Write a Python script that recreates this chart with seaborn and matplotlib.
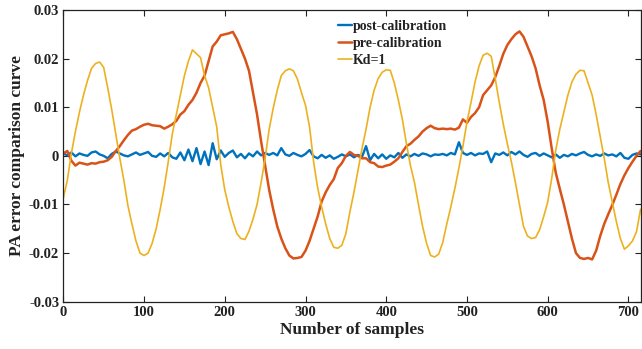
import matplotlib
matplotlib.use("Agg")
import matplotlib.pyplot as plt
import seaborn as sns
import pandas as pd

# ---- data (values in units of 1e-3, sampled every 5 samples) ----
samples = list(range(0, 720, 5))

post_calibration = [
    0.5, 0.1, 0.7, -0.1, 0.5, 0.2, 0.0, 0.7, 0.9, 0.3,
    0.0, -0.5, 0.4, 0.9, 0.5, 0.1, -0.1, 0.3, 0.7, 0.2,
    0.5, 0.8, 0.0, -0.2, 0.5, -0.1, 0.6, -0.3, -0.6, 0.7,
    -0.9, 1.3, -1.1, 1.6, -1.7, 0.9, -1.9, 2.6, -0.7, 1.1,
    -0.2, 0.6, 1.1, -0.3, 0.4, -0.5, 0.5, -0.1, 0.9, 0.1,
    0.6, 0.2, 0.6, 0.1, 1.6, 0.3, 0.0, 0.6, 0.2, -0.1,
    0.4, 1.2, -0.1, -0.5, 0.2, -0.4, 0.1, -0.6, -0.2, 0.3,
    -0.1, 0.3, -0.3, 0.2, -0.2, 2.0, -0.9, 0.4, -0.5, 0.3,
    -0.6, 0.1, -0.3, 0.6, -0.4, 0.3, -0.1, 0.4, 0.0, 0.5,
    0.3, -0.1, 0.3, 0.2, 0.4, 0.1, 0.6, 0.3, 2.8, 0.6,
    0.2, 0.6, 0.1, 0.5, 0.4, 0.9, -1.3, 0.5, 0.2, 0.7,
    0.1, 0.8, 0.3, 0.9, 0.2, -0.2, 0.4, 0.6, 0.0, 0.5,
    0.1, -0.3, 0.3, -0.4, 0.2, -0.1, 0.4, 0.1, 0.5, 0.8,
    0.2, -0.1, 0.3, 0.0, 0.5, 0.1, 0.3, -0.1, 0.6, -0.4,
    -0.6, 0.2, 0.5, 0.3,
]

pre_calibration = [
    0.5, 1.0, -1.0, -2.0, -1.4, -1.6, -1.8, -1.5, -1.6, -1.3,
    -1.2, -0.9, -0.2, 1.0, 2.0, 3.2, 4.3, 5.2, 5.5, 6.0,
    6.4, 6.6, 6.3, 6.2, 6.1, 5.6, 6.0, 6.5, 7.2, 8.5,
    9.2, 10.5, 11.5, 13.0, 15.0, 16.5, 19.5, 22.5, 23.5, 24.8,
    25.0, 25.2, 25.5, 24.0, 22.0, 20.0, 17.5, 13.0, 8.5, 3.0,
    -2.0, -7.0, -11.0, -14.5, -17.0, -19.0, -20.5, -21.1, -21.0, -20.8,
    -19.5, -17.5, -15.0, -12.5, -9.4, -7.5, -6.0, -4.8, -2.5, -1.5,
    0.0, 0.8, 0.2, 0.0, -0.5, -0.5, -1.3, -1.5, -2.2, -2.3,
    -2.0, -1.8, -1.2, -0.5, 0.8, 2.0, 2.5, 3.3, 4.0, 5.0,
    5.7, 6.2, 5.7, 5.5, 5.6, 5.5, 5.6, 5.4, 5.8, 7.5,
    6.8, 8.0, 8.8, 10.0, 12.5, 13.5, 14.5, 16.2, 18.5, 21.0,
    22.8, 24.0, 25.0, 25.6, 24.5, 22.5, 20.5, 18.0, 14.5, 11.5,
    7.0, 1.5, -3.5, -6.8, -10.0, -13.5, -17.0, -20.0, -21.0, -21.2,
    -21.0, -21.3, -19.5, -16.5, -14.0, -12.0, -10.1, -8.0, -5.8, -4.0,
    -2.5, -1.2, 0.0, 1.0,
]

kd_1 = [
    -8.7, -5.0, 0.5, 5.0, 9.0, 12.5, 15.5, 18.0, 19.0, 19.3,
    18.2, 14.0, 9.5, 4.5, -0.5, -5.0, -10.2, -14.0, -17.5, -20.0,
    -20.5, -20.0, -18.0, -15.0, -11.0, -6.5, -1.2, 4.5, 8.5, 12.5,
    16.5, 19.5, 21.8, 21.0, 20.2, 16.5, 14.0, 10.0, 6.0, -1.8,
    -7.0, -10.5, -13.5, -16.0, -17.0, -17.2, -15.5, -13.0, -10.0, -5.5,
    -0.5, 5.5, 9.8, 13.5, 16.5, 17.5, 17.9, 17.5, 15.8, 13.0,
    10.4, 6.0, -1.2, -6.5, -10.5, -14.0, -17.0, -18.8, -19.0, -18.4,
    -16.0, -11.5, -7.5, -3.0, 1.5, 5.5, 10.0, 13.5, 15.9, 17.2,
    17.7, 17.6, 15.0, 11.5, 7.5, 2.5, -2.0, -5.5, -10.1, -14.5,
    -18.0, -20.5, -20.8, -20.2, -17.8, -14.0, -10.5, -6.7, -2.5, 2.0,
    7.0, 11.0, 15.2, 18.5, 20.7, 21.1, 20.5, 15.9, 11.0, 6.5,
    2.5, -1.2, -5.5, -10.0, -14.5, -16.5, -17.0, -16.8, -15.2, -12.5,
    -9.5, -4.6, 1.2, 5.5, 9.0, 12.5, 15.2, 16.8, 17.6, 17.5,
    15.0, 12.5, 8.5, 4.0, -0.5, -5.5, -9.5, -13.5, -17.0, -19.2,
    -18.5, -17.5, -15.6, -11.0,
]

series_names = ["post-calibration", "pre-calibration", "Kd=1"]
y_ticks = [-0.03, -0.02, -0.01, 0, 0.01, 0.02, 0.03]
y_tick_labels = ["-0.03", "-0.02", "-0.01", "0", "0.01", "0.02", "0.03"]
x_ticks = [0, 100, 200, 300, 400, 500, 600, 700]
x_tick_labels = ["0", "100", "200", "300", "400", "500", "600", "700"]

# ---- style ----
sns.set_style("ticks")
plt.rcParams["font.family"] = ["Liberation Serif", "DejaVu Serif"]
plt.rcParams["font.weight"] = "bold"
plt.rcParams["xtick.direction"] = "in"
plt.rcParams["ytick.direction"] = "in"

colors = ["#0072BD", "#D95319", "#EDB120"]
widths = [1.7, 1.8, 1.2]

frames = []
for name, vals in zip(series_names, [post_calibration, pre_calibration, kd_1]):
    frames.append(pd.DataFrame({"sample": samples,
                                "value": [v * 1e-3 for v in vals],
                                "series": name}))
df = pd.concat(frames, ignore_index=True)

fig = plt.figure(figsize=(6.42, 3.49), dpi=100)
ax = fig.add_axes([0.0986, 0.1355, 0.9004, 0.8358])

for name, c, lw in zip(series_names, colors, widths):
    sns.lineplot(data=df[df["series"] == name], x="sample", y="value",
                 color=c, linewidth=lw, label=name, ax=ax, estimator=None)

ax.set_xlim(0, 716)
ax.set_ylim(-0.03, 0.03)
ax.set_xticks(x_ticks)
ax.set_xticklabels(x_tick_labels, fontsize=10.5, fontweight="bold")
ax.set_yticks(y_ticks)
ax.set_yticklabels(y_tick_labels, fontsize=10.5, fontweight="bold")
ax.tick_params(axis="both", which="both", direction="in", top=True, right=True,
               length=4, width=0.8, colors="#222222", labelcolor="#222222", pad=3)
for s in ax.spines.values():
    s.set_visible(True)
    s.set_linewidth(0.9)
    s.set_color("#222222")

ax.set_xlabel("Number of samples", fontsize=12.5, fontweight="bold",
              color="#222222", labelpad=2)
ax.set_ylabel("PA error comparison curve", fontsize=12.5, fontweight="bold",
              color="#222222", labelpad=3)

leg = ax.legend(loc="upper left", bbox_to_anchor=(0.458, 1.0), frameon=False,
                handlelength=1.0, handletextpad=0.1, labelspacing=0.3,
                borderaxespad=0.3, prop={"family": "Liberation Serif",
                                         "weight": "bold", "size": 10})
for t in leg.get_texts():
    t.set_color("#222222")

fig.savefig("out.png", dpi=100)
